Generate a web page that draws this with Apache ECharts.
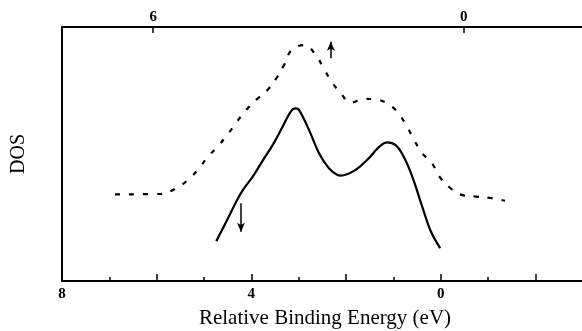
<!DOCTYPE html>
<html>
<head>
<meta charset="utf-8">
<script src="https://cdn.jsdelivr.net/npm/echarts@6/dist/echarts.min.js"></script>
<style>html,body{margin:0;padding:0;background:#fff}#c{width:582px;height:331px}</style>
</head>
<body>
<div id="c"></div>
<script>
// Dashed curve (binding energy eV, DOS arbitrary units)
const dashedE = [6.88,5.90,5.59,5.34,5.10,4.92,4.71,4.51,4.32,4.13,3.90,3.66,3.45,3.31,3.15,2.88,2.64,2.46,2.29,2.11,1.90,1.62,1.38,1.16,0.92,0.71,0.57,0.39,0.18,0.04,-0.17,-0.45,-0.76,-1.08,-1.36];
const dashedV = [34.1,34.3,36.5,39.8,44.4,48.9,52.9,57.5,62.3,66.9,71.3,75.2,80.4,85.0,90.9,92.9,89.0,83.3,78.1,73.9,70.2,71.7,71.5,70.2,66.7,60.7,55.8,50.3,46.3,41.5,37.1,33.9,33.2,32.6,31.6];
// Solid curve
const solidE = [4.74,4.53,4.32,4.18,3.97,3.73,3.55,3.34,3.16,3.06,2.99,2.78,2.57,2.36,2.18,2.11,1.80,1.52,1.31,1.13,0.95,0.78,0.60,0.39,0.22,0.01];
const solidV = [15.7,23.3,31.2,35.8,41.1,48.3,53.5,60.7,66.9,68.0,67.3,59.4,50.3,44.4,41.7,41.5,43.7,48.3,52.6,54.6,53.5,48.9,41.1,29.3,20.1,12.9];
// Arrows: [energy, from, to]
const arrowDown = [4.22, 30.6, 19.4];
const arrowUp = [2.32, 87.7, 94.2];
// Tick labels
const bottomLabels = [8, 4, 0];
const topLabels = [6, 0];

const toPairs = (xs, ys) => xs.map((x, i) => [x, ys[i]]);
const font = '"Liberation Serif", "DejaVu Serif", serif';
const black = '#000';

const chart = echarts.init(document.getElementById('c'));
chart.setOption({
  animation: false,
  backgroundColor: '#fff',
  grid: {
    show: true, backgroundColor: 'transparent', borderColor: black, borderWidth: 2,
    left: 62, top: 27, right: -48, bottom: 50, containLabel: false, outerBoundsMode: 'none'
  },
  xAxis: [
    {
      type: 'value', inverse: true, min: -4, max: 8, interval: 2,
      position: 'bottom',
      axisLine: { show: true, onZero: false, lineStyle: { color: black, width: 2 } },
      axisTick: { show: true, inside: true, length: 7, lineStyle: { color: black, width: 1.5 } },
      minorTick: { show: true, splitNumber: 2, length: 4, lineStyle: { color: black, width: 1.5 } },
      axisLabel: { customValues: bottomLabels, color: black, fontFamily: font, fontWeight: 'bold', fontSize: 15, margin: 6 },
      splitLine: { show: false },
      name: 'Relative Binding Energy (eV)', nameLocation: 'middle', nameGap: 27,
      nameTextStyle: { color: black, fontFamily: font, fontSize: 21, padding: [0, 0, 0, -42] }
    },
    {
      type: 'value', inverse: true, min: -3.21, max: 7.76,
      position: 'top',
      axisLine: { show: true, onZero: false, lineStyle: { color: black, width: 2 } },
      axisTick: { show: true, inside: true, length: 6, customValues: topLabels, lineStyle: { color: black, width: 1.5 } },
      axisLabel: { customValues: topLabels, color: black, fontFamily: font, fontWeight: 'bold', fontSize: 15, margin: 2 },
      splitLine: { show: false }
    }
  ],
  yAxis: {
    type: 'value', min: 0, max: 100, position: 'left',
    axisLine: { show: false, onZero: false },
    axisTick: { show: false }, axisLabel: { show: false }, splitLine: { show: false },
    name: 'DOS', nameLocation: 'middle', nameGap: 33,
    nameTextStyle: { color: black, fontFamily: font, fontSize: 20 }
  },
  series: [
    {
      type: 'line', data: toPairs(dashedE, dashedV), smooth: 0.4, showSymbol: false,
      lineStyle: { color: black, width: 2.2, type: [5, 9] }
    },
    {
      type: 'line', data: toPairs(solidE, solidV), smooth: 0.4, showSymbol: false,
      lineStyle: { color: black, width: 2.2 },
      markLine: {
        silent: true, symbol: ['none', 'arrow'], symbolSize: [6, 9], label: { show: false },
        lineStyle: { color: black, width: 1.5, type: 'solid' },
        data: [
          [{ coord: [arrowDown[0], arrowDown[1]] }, { coord: [arrowDown[0], arrowDown[2]] }],
          [{ coord: [arrowUp[0], arrowUp[1]] }, { coord: [arrowUp[0], arrowUp[2]] }]
        ]
      }
    }
  ]
});
</script>
</body>
</html>
